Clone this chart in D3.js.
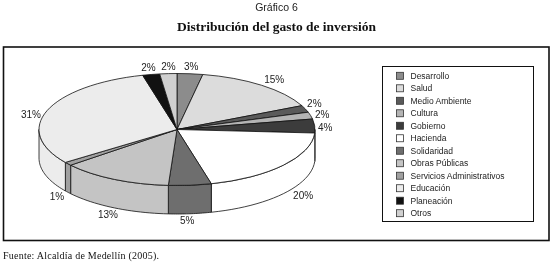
<!DOCTYPE html>
<html>
<head>
<meta charset="utf-8">
<title>Gráfico 6</title>
<script src="https://cdn.jsdelivr.net/npm/d3@7"></script>
<style>
  html, body { margin: 0; background: #fff; }
  svg { display: block; filter: blur(0.3px); }
  .sans { font-family: "Liberation Sans", Arial, sans-serif; fill: #222; }
  .serif { font-family: "Liberation Serif", "Times New Roman", serif; fill: #111; }
</style>
</head>
<body>
<div id="chart"></div>
<script>
// data, clockwise from 12 o'clock
const categories = ['Desarrollo', 'Salud', 'Medio Ambiente', 'Cultura', 'Gobierno', 'Hacienda',
  'Solidaridad', 'Obras Públicas', 'Servicios Administrativos', 'Educación', 'Planeación', 'Otros'];
const values = [3, 15, 2, 2, 4, 20, 5, 13, 1, 31, 2, 2];
const colors = ['#8c8c8c', '#dcdcdc', '#5a5a5a', '#b4b4b4', '#3c3c3c', '#ffffff',
  '#6e6e6e', '#c4c4c4', '#a0a0a0', '#ececec', '#111111', '#d0d0d0'];

const width = 554;
const height = 270;
const pieBox = { cx: 177, cy: 129.5, rx: 138, ry: 56, depth: 28.5 };

const svg = d3.select('#chart').append('svg')
  .attr('width', width)
  .attr('height', height)
  .attr('viewBox', [0, 0, width, height]);

// titles
svg.append('text').attr('class', 'sans')
  .attr('x', 276.5).attr('y', 11)
  .attr('text-anchor', 'middle').attr('font-size', 10.5)
  .text('Gráfico 6');
svg.append('text').attr('class', 'serif')
  .attr('x', 276.5).attr('y', 30.5)
  .attr('text-anchor', 'middle').attr('font-size', 13.5).attr('font-weight', 'bold')
  .attr('textLength', 199).attr('lengthAdjust', 'spacing')
  .text('Distribución del gasto de inversión');
svg.append('text').attr('class', 'serif')
  .attr('x', 3).attr('y', 259)
  .attr('font-size', 10)
  .attr('textLength', 156).attr('lengthAdjust', 'spacing')
  .text('Fuente: Alcaldía de Medellín (2005).');

// outer frame
svg.append('rect')
  .attr('x', 3.5).attr('y', 47)
  .attr('width', 545.5).attr('height', 193.5)
  .attr('fill', 'none').attr('stroke', '#111').attr('stroke-width', 1.6);

// pie
const slices = d3.pie().sort(null).startAngle(0).endAngle(2 * Math.PI)(values);

const px = a => pieBox.cx + Math.sin(a) * pieBox.rx;
const py = a => pieBox.cy - Math.cos(a) * pieBox.ry;
const line = d3.line();

// rim of the disc, only the front half (90 to 270 deg) can be seen
const rim = svg.append('g');
slices.forEach(s => {
  const a0 = Math.max(s.startAngle, Math.PI / 2);
  const a1 = Math.min(s.endAngle, 3 * Math.PI / 2);
  if (a1 <= a0) return;
  const steps = d3.range(0, 1.0001, 1 / 24).map(t => a0 + (a1 - a0) * t);
  const top = steps.map(a => [px(a), py(a)]);
  const bottom = steps.slice().reverse().map(a => [px(a), py(a) + pieBox.depth]);
  rim.append('path')
    .attr('d', line(top.concat(bottom)) + 'Z')
    .attr('fill', colors[s.index])
    .attr('stroke', '#111').attr('stroke-width', 0.8).attr('stroke-linejoin', 'round');
});

// top face: unit arcs squashed into the ellipse
const arc = d3.arc().innerRadius(0).outerRadius(pieBox.rx);
svg.append('g')
  .attr('transform', `translate(${pieBox.cx},${pieBox.cy}) scale(1,${pieBox.ry / pieBox.rx})`)
  .selectAll('path')
  .data(slices)
  .join('path')
    .attr('d', arc)
    .attr('fill', d => colors[d.index])
    .attr('stroke', '#111')
    .attr('stroke-width', 0.8)
    .attr('vector-effect', 'non-scaling-stroke');

// percent labels sit on a wider ellipse, pushed down by the rim on the front half
const labelR = { x: 152, y: 63 };
const nudge = { 1: [4, 0], 2: [-4, -3], 3: [-2, 0.7], 4: [-3.5, 1.5], 5: [9, -3], 6: [-4, 0], 9: [-3, 6], 11: [1, 0] };
svg.append('g').selectAll('text')
  .data(slices)
  .join('text')
    .attr('class', 'sans')
    .attr('font-size', 10)
    .attr('text-anchor', 'middle')
    .attr('dy', '0.35em')
    .attr('x', d => {
      const a = (d.startAngle + d.endAngle) / 2;
      return pieBox.cx + Math.sin(a) * labelR.x + (nudge[d.index] ? nudge[d.index][0] : 0);
    })
    .attr('y', d => {
      const a = (d.startAngle + d.endAngle) / 2;
      const down = Math.cos(a) < 0 ? pieBox.depth : 0;
      return pieBox.cy - Math.cos(a) * labelR.y + down + (nudge[d.index] ? nudge[d.index][1] : 0);
    })
    .text(d => d.value + '%');

// legend
const legend = svg.append('g');
legend.append('rect')
  .attr('x', 382.5).attr('y', 66.5)
  .attr('width', 151).attr('height', 155)
  .attr('fill', '#fff').attr('stroke', '#111').attr('stroke-width', 1);

const legendY = d3.scalePoint().domain(categories).range([75.8, 213.2]);

legend.selectAll('rect.key')
  .data(categories)
  .join('rect')
    .attr('class', 'key')
    .attr('x', 396.5)
    .attr('y', d => legendY(d) - 3.5)
    .attr('width', 7).attr('height', 7)
    .attr('fill', (d, i) => colors[i])
    .attr('stroke', '#333').attr('stroke-width', 0.8);

legend.selectAll('text')
  .data(categories)
  .join('text')
    .attr('class', 'sans')
    .attr('x', 410.5)
    .attr('y', d => legendY(d))
    .attr('dy', '0.35em')
    .attr('font-size', 8.5)
    .text(d => d);
</script>
</body>
</html>
